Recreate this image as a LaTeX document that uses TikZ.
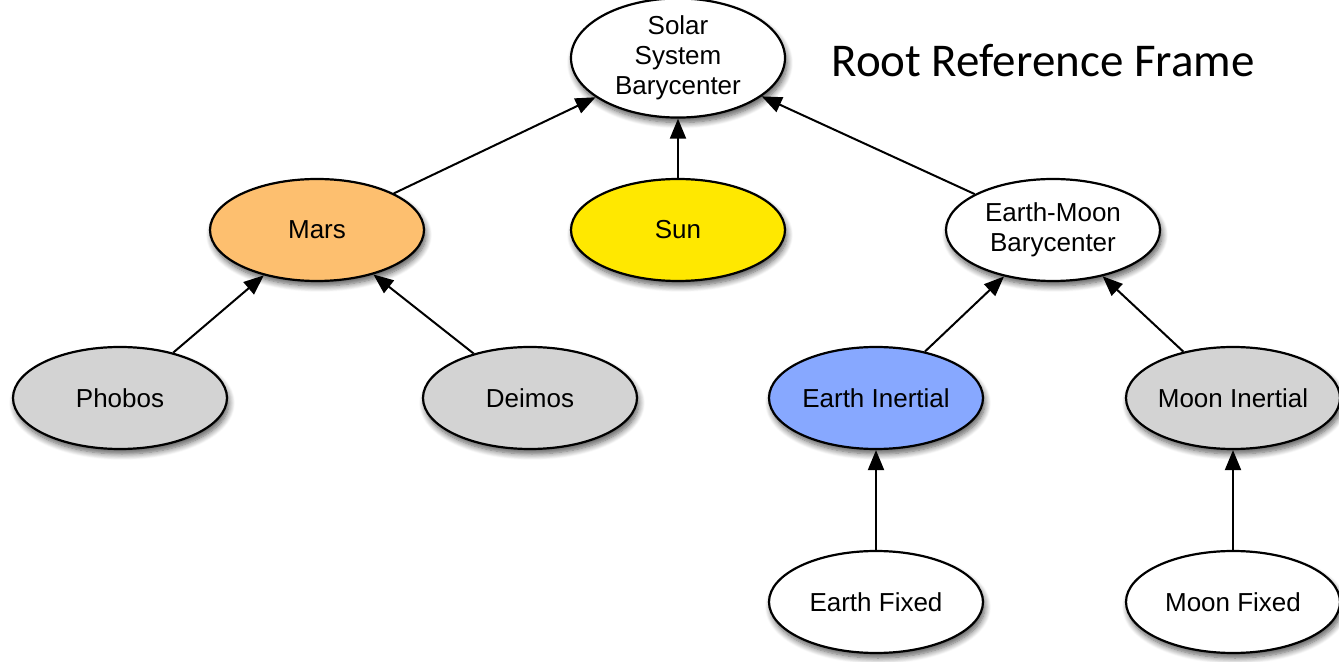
\documentclass[tikz,border=0pt]{standalone}
\usepackage{fontspec}
\setmainfont{Liberation Sans}
\newfontfamily\calibri{Carlito}
\usetikzlibrary{shapes.geometric,arrows.meta,shadows.blur}
\definecolor{marsc}{RGB}{253,191,111}
\definecolor{sunc}{RGB}{255,232,0}
\definecolor{earthc}{RGB}{135,168,255}
\definecolor{greyc}{RGB}{211,211,211}
\tikzset{
  frame/.style={ellipse, draw=black, line width=1.1pt, fill=white,
    minimum width=107pt, minimum height=51pt, inner sep=0pt,
    align=center, font=\fontsize{13pt}{15pt}\selectfont,
    blur shadow={shadow xshift=1pt, shadow yshift=-2.5pt, shadow blur steps=8, shadow blur radius=3pt, shadow opacity=65}},
  link/.style={line width=1pt, -{Triangle[length=10pt,width=8pt]}}
}
\begin{document}
\begin{tikzpicture}[x=0.5pt,y=-0.5pt]
\useasboundingbox (0,0) rectangle (1339,662);
\node[frame] (ssb) at (678,58) {Solar\\System\\Barycenter};
\node[frame, fill=marsc] (mars) at (317,230) {Mars};
\node[frame, fill=sunc] (sun) at (678,230) {Sun};
\node[frame] (emb) at (1053,230) {Earth-Moon\\Barycenter};
\node[frame, fill=greyc] (phobos) at (120,398) {Phobos};
\node[frame, fill=greyc] (deimos) at (530,398) {Deimos};
\node[frame, fill=earthc] (ei) at (876,398) {Earth Inertial};
\node[frame, fill=greyc] (mi) at (1233,398) {Moon Inertial};
\node[frame] (ef) at (876,602) {Earth Fixed};
\node[frame] (mf) at (1233,602) {Moon Fixed};
\node[font=\calibri\fontsize{23.5pt}{28pt}\selectfont] (title) at (1043,61) {Root Reference Frame};
\draw[link] (mars) -- (ssb);
\draw[link] (sun) -- (ssb);
\draw[link] (emb) -- (ssb);
\draw[link] (phobos) -- (mars);
\draw[link] (deimos) -- (mars);
\draw[link] (ei) -- (emb);
\draw[link] (mi) -- (emb);
\draw[link] (ef) -- (ei);
\draw[link] (mf) -- (mi);
\end{tikzpicture}
\end{document}
